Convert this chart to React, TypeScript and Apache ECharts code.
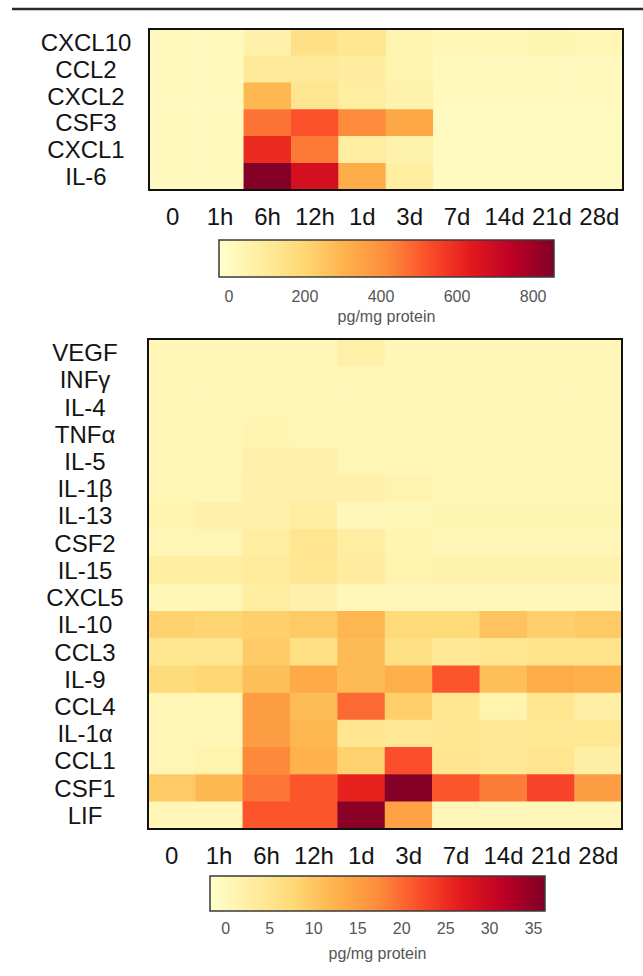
import React, { useEffect, useRef } from "react";
import * as echarts from "echarts";

// Sampling time points (columns of both heat maps)
const timePoints = ["0", "1h", "6h", "12h", "1d", "3d", "7d", "14d", "21d", "28d"];

// Upper panel: high-abundance cytokines (pg/mg protein)
const topCytokines = ["CXCL10", "CCL2", "CXCL2", "CSF3", "CXCL1", "IL-6"];
const topValues = [
  [10, 10, 60, 150, 125, 45, 25, 35, 38, 32],
  [10, 10, 100, 100, 90, 45, 15, 12, 12, 12],
  [10, 10, 290, 130, 85, 55, 8, 8, 8, 8],
  [8, 8, 460, 520, 415, 330, 6, 6, 6, 6],
  [8, 8, 600, 450, 85, 55, 6, 6, 6, 6],
  [8, 8, 850, 680, 320, 85, 6, 6, 6, 6],
];
const topScaleMin = -26;
const topScaleMax = 855;
const topTicks = [0, 200, 400, 600, 800];

// Lower panel: low-abundance cytokines (pg/mg protein)
const bottomCytokines = [
  "VEGF", "INFγ", "IL-4", "TNFα", "IL-5", "IL-1β", "IL-13", "CSF2", "IL-15",
  "CXCL5", "IL-10", "CCL3", "IL-9", "CCL4", "IL-1α", "CCL1", "CSF1", "LIF",
];
const bottomValues = [
  [0.5, 0.5, 0.5, 0.5, 2.2, 0.5, 0.5, 0.5, 0.5, 0.5],
  [0.5, 0.5, 0.5, 0.5, 0.5, 0.5, 0.5, 0.5, 0.5, 0.5],
  [0.5, 0.5, 0.7, 0.5, 0.5, 0.5, 0.5, 0.5, 0.5, 0.5],
  [0.5, 0.5, 1.0, 0.6, 0.5, 0.5, 0.5, 0.5, 0.5, 0.5],
  [0.5, 0.5, 1.8, 1.8, 0.8, 0.6, 0.5, 0.5, 0.5, 0.5],
  [0.6, 0.6, 1.8, 1.9, 2.0, 1.3, 0.7, 0.7, 0.7, 0.7],
  [1.2, 2.0, 2.0, 2.8, 0.2, 0.4, 0.9, 0.9, 0.9, 0.9],
  [0.8, 0.8, 2.8, 4.8, 2.8, 1.2, 0.5, 0.5, 0.5, 0.5],
  [2.8, 2.8, 3.5, 4.6, 3.2, 1.5, 1.6, 1.6, 1.6, 1.6],
  [0.4, 0.4, 3.0, 1.8, 0.2, 0.2, 0.2, 0.2, 0.2, 0.2],
  [8.5, 8.2, 9.0, 9.5, 12.0, 7.5, 7.5, 10.5, 9.0, 9.5],
  [4.5, 4.5, 9.5, 6.0, 11.5, 6.0, 4.0, 4.5, 5.2, 5.2],
  [7.0, 8.0, 11.0, 13.5, 11.5, 13.0, 21.5, 11.0, 13.3, 12.8],
  [0.6, 0.8, 15.0, 11.3, 20.0, 9.0, 4.5, 1.5, 4.5, 2.5],
  [0.6, 0.6, 15.0, 12.0, 4.8, 4.2, 4.6, 4.0, 4.4, 4.4],
  [0.7, 1.5, 17.5, 12.5, 8.5, 22.0, 4.8, 4.0, 4.8, 2.5],
  [9.5, 11.8, 19.0, 21.5, 26.0, 36.0, 21.5, 18.5, 23.0, 15.0],
  [0.5, 0.5, 21.5, 21.5, 35.5, 14.5, 0.3, 0.3, 0.3, 0.3],
];
const bottomScaleMin = -1.8;
const bottomScaleMax = 36.3;
const bottomTicks = [0, 5, 10, 15, 20, 25, 30, 35];

// Yellow-orange-red sequential palette
const palette = [
  "#ffffcc", "#ffeda0", "#fed976", "#feb24c", "#fd8d3c",
  "#fc4e2a", "#e31a1c", "#bd0026", "#800026",
];

const FONT = "'Liberation Sans', Arial, Helvetica, sans-serif";

// Layout of the four plotting areas
const topGrid = { left: 149, top: 29, width: 474, height: 161 };
const bottomGrid = { left: 148, top: 339, width: 474, height: 490 };
const topBarGrid = { left: 219, top: 240, width: 335, height: 37 };
const bottomBarGrid = { left: 210, top: 876, width: 335, height: 35 };

function toCells(values: number[][]) {
  const cells: number[][] = [];
  values.forEach((row, r) => row.forEach((v, c) => cells.push([c, r, v])));
  return cells;
}

function gradientFill() {
  return new echarts.graphic.LinearGradient(
    0, 0, 1, 0,
    palette.map((color, i) => ({ offset: i / (palette.length - 1), color }))
  );
}

function colorBarItem(params: any, api: any) {
  const start = api.coord([api.value(0), 0]);
  const end = api.coord([api.value(1), 0]);
  const cs = params.coordSys;
  return {
    type: "rect",
    shape: { x: start[0], y: cs.y, width: end[0] - start[0], height: cs.height },
    style: { fill: gradientFill(), stroke: "#3a3a3a", lineWidth: 1.5 },
  };
}

function heatXAxis(gridIndex: number) {
  return {
    type: "category",
    gridIndex,
    data: timePoints,
    axisLine: { show: false },
    axisTick: { show: false },
    splitLine: { show: false },
    axisLabel: { interval: 0, fontSize: 24, color: "#141414", margin: 14, fontFamily: FONT },
  };
}

function heatYAxis(gridIndex: number, names: string[]) {
  return {
    type: "category",
    gridIndex,
    data: names,
    inverse: true,
    axisLine: { show: false },
    axisTick: { show: false },
    splitLine: { show: false },
    axisLabel: {
      interval: 0,
      fontSize: 24,
      color: "#141414",
      margin: 63,
      align: "center",
      fontFamily: FONT,
    },
  };
}

function barXAxis(gridIndex: number, min: number, max: number, ticks: number[], gap: number, nameGap: number) {
  return {
    type: "value",
    gridIndex,
    min,
    max,
    name: "pg/mg protein",
    nameLocation: "middle",
    nameGap,
    nameTextStyle: { fontSize: 16, color: "#555", fontFamily: FONT },
    axisLine: { show: false },
    axisTick: { show: false },
    splitLine: { show: false },
    axisLabel: { customValues: ticks, fontSize: 16, color: "#555", margin: gap, fontFamily: FONT },
  };
}

function barYAxis(gridIndex: number) {
  return { type: "value", gridIndex, min: 0, max: 1, show: false };
}

function frame(g: { left: number; top: number; width: number; height: number }) {
  return {
    type: "rect",
    z: 100,
    shape: { x: g.left, y: g.top, width: g.width, height: g.height },
    style: { fill: "none", stroke: "#111", lineWidth: 2 },
  };
}

export default function App() {
  const ref = useRef<HTMLDivElement>(null);

  useEffect(() => {
    if (!ref.current) return;
    const chart = echarts.init(ref.current, undefined, { renderer: "svg" });
    chart.setOption({
      animation: false,
      backgroundColor: "#ffffff",
      grid: [topGrid, bottomGrid, topBarGrid, bottomBarGrid].map((g) => ({ ...g, containLabel: false })),
      xAxis: [
        heatXAxis(0),
        heatXAxis(1),
        barXAxis(2, topScaleMin, topScaleMax, topTicks, 11, 31),
        barXAxis(3, bottomScaleMin, bottomScaleMax, bottomTicks, 9, 34),
      ],
      yAxis: [
        heatYAxis(0, topCytokines),
        heatYAxis(1, bottomCytokines),
        barYAxis(2),
        barYAxis(3),
      ],
      visualMap: [
        {
          type: "continuous",
          show: false,
          seriesIndex: 0,
          dimension: 2,
          min: topScaleMin,
          max: topScaleMax,
          inRange: { color: palette },
        },
        {
          type: "continuous",
          show: false,
          seriesIndex: 1,
          dimension: 2,
          min: bottomScaleMin,
          max: bottomScaleMax,
          inRange: { color: palette },
        },
      ],
      series: [
        {
          type: "heatmap",
          xAxisIndex: 0,
          yAxisIndex: 0,
          data: toCells(topValues),
          itemStyle: { borderWidth: 0 },
          emphasis: { disabled: true },
          progressive: 0,
        },
        {
          type: "heatmap",
          xAxisIndex: 1,
          yAxisIndex: 1,
          data: toCells(bottomValues),
          itemStyle: { borderWidth: 0 },
          emphasis: { disabled: true },
          progressive: 0,
        },
        {
          type: "custom",
          xAxisIndex: 2,
          yAxisIndex: 2,
          data: [[topScaleMin, topScaleMax]],
          encode: { x: [0, 1] },
          renderItem: colorBarItem,
          silent: true,
        },
        {
          type: "custom",
          xAxisIndex: 3,
          yAxisIndex: 3,
          data: [[bottomScaleMin, bottomScaleMax]],
          encode: { x: [0, 1] },
          renderItem: colorBarItem,
          silent: true,
        },
      ],
      graphic: [
        {
          type: "line",
          shape: { x1: 12, y1: 9, x2: 643, y2: 9 },
          style: { stroke: "#2b2b2b", lineWidth: 2.5 },
        },
        frame(topGrid),
        frame(bottomGrid),
      ],
    });
    return () => chart.dispose();
  }, []);

  return (
    <div
      ref={ref}
      style={{ position: "absolute", left: 0, top: 0, width: 643, height: 976, background: "#fff" }}
    />
  );
}
